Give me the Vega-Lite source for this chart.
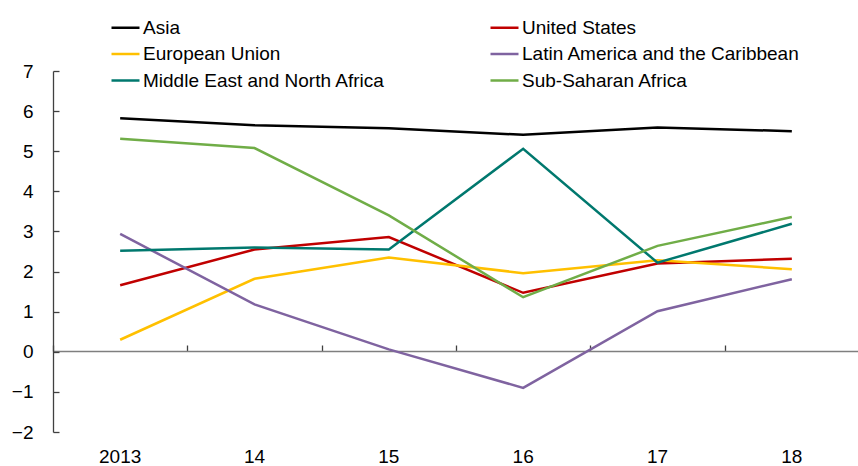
{
  "$schema": "https://vega.github.io/schema/vega-lite/v6.json",
  "width": 806,
  "height": 361,
  "autosize": {"type": "none"},
  "padding": {"left": 53, "top": 71, "right": 0, "bottom": 34},
  "background": "white",
  "config": {
    "view": {"stroke": null},
    "font": "Liberation Sans",
    "axis": {"grid": false, "labelFont": "Liberation Sans", "labelColor": "#000000", "labelFontSize": 19}
  },
  "data": {
    "values": [
      {"year": "2013", "region": "Asia", "value": 5.82},
      {"year": "14", "region": "Asia", "value": 5.65},
      {"year": "15", "region": "Asia", "value": 5.57},
      {"year": "16", "region": "Asia", "value": 5.41},
      {"year": "17", "region": "Asia", "value": 5.59},
      {"year": "18", "region": "Asia", "value": 5.50},
      {"year": "2013", "region": "United States", "value": 1.66},
      {"year": "14", "region": "United States", "value": 2.55},
      {"year": "15", "region": "United States", "value": 2.86},
      {"year": "16", "region": "United States", "value": 1.47},
      {"year": "17", "region": "United States", "value": 2.20},
      {"year": "18", "region": "United States", "value": 2.32},
      {"year": "2013", "region": "European Union", "value": 0.30},
      {"year": "14", "region": "European Union", "value": 1.82},
      {"year": "15", "region": "European Union", "value": 2.35},
      {"year": "16", "region": "European Union", "value": 1.96},
      {"year": "17", "region": "European Union", "value": 2.28},
      {"year": "18", "region": "European Union", "value": 2.06},
      {"year": "2013", "region": "Latin America and the Caribbean", "value": 2.94},
      {"year": "14", "region": "Latin America and the Caribbean", "value": 1.18},
      {"year": "15", "region": "Latin America and the Caribbean", "value": 0.06},
      {"year": "16", "region": "Latin America and the Caribbean", "value": -0.90},
      {"year": "17", "region": "Latin America and the Caribbean", "value": 1.01},
      {"year": "18", "region": "Latin America and the Caribbean", "value": 1.81},
      {"year": "2013", "region": "Middle East and North Africa", "value": 2.52},
      {"year": "14", "region": "Middle East and North Africa", "value": 2.60},
      {"year": "15", "region": "Middle East and North Africa", "value": 2.55},
      {"year": "16", "region": "Middle East and North Africa", "value": 5.06},
      {"year": "17", "region": "Middle East and North Africa", "value": 2.22},
      {"year": "18", "region": "Middle East and North Africa", "value": 3.19},
      {"year": "2013", "region": "Sub-Saharan Africa", "value": 5.31},
      {"year": "14", "region": "Sub-Saharan Africa", "value": 5.08},
      {"year": "15", "region": "Sub-Saharan Africa", "value": 3.40},
      {"year": "16", "region": "Sub-Saharan Africa", "value": 1.36},
      {"year": "17", "region": "Sub-Saharan Africa", "value": 2.64},
      {"year": "18", "region": "Sub-Saharan Africa", "value": 3.36}
    ]
  },
  "resolve": {"axis": {"x": "independent"}},
  "layer": [
    {
      "mark": {"type": "rule", "opacity": 0},
      "encoding": {
        "x": {
          "field": "year", "type": "ordinal", "sort": ["2013", "14", "15", "16", "17", "18"],
          "scale": {"type": "band", "paddingInner": 0, "paddingOuter": 0},
          "axis": {"title": null, "orient": "bottom", "offset": -81, "labels": false, "domainColor": "#7f7f7f", "domainWidth": 1.5, "tickColor": "#404040", "tickSize": -6, "tickWidth": 1.3, "tickBand": "extent"}
        },
        "y": {"field": "value", "type": "quantitative"}
      }
    },
    {
      "mark": {"type": "line", "strokeWidth": 2.5},
      "encoding": {
        "x": {
          "field": "year", "type": "ordinal", "sort": ["2013", "14", "15", "16", "17", "18"],
          "bandPosition": 0.5,
          "axis": {"title": null, "orient": "bottom", "domain": false, "ticks": false, "labelAngle": 0, "labelPadding": 15}
        },
        "y": {
          "field": "value", "type": "quantitative",
          "scale": {"domain": [-2, 7], "nice": false, "zero": false},
          "axis": {"title": null, "values": [-2, -1, 0, 1, 2, 3, 4, 5, 6, 7], "domainColor": "#404040", "domainWidth": 1.3, "tickColor": "#404040", "tickSize": -6, "tickWidth": 1.3, "labelPadding": 26}
        },
        "color": {
          "field": "region", "type": "nominal",
          "scale": {
            "domain": ["Asia", "European Union", "Middle East and North Africa", "United States", "Latin America and the Caribbean", "Sub-Saharan Africa"],
            "range": ["#000000", "#FFC000", "#00786E", "#C00000", "#7F63A0", "#70AD47"]
          },
          "legend": {
            "title": null, "orient": "none", "legendX": 57, "legendY": -59, "columns": 2,
            "columnPadding": 100, "rowPadding": 0.5,
            "symbolType": "stroke", "symbolSize": 784, "symbolStrokeWidth": 2.5, "symbolOffset": 0,
            "labelFont": "Liberation Sans", "labelFontSize": 19, "labelColor": "#000000", "labelOffset": 2, "labelLimit": 400
          }
        }
      }
    }
  ]
}
